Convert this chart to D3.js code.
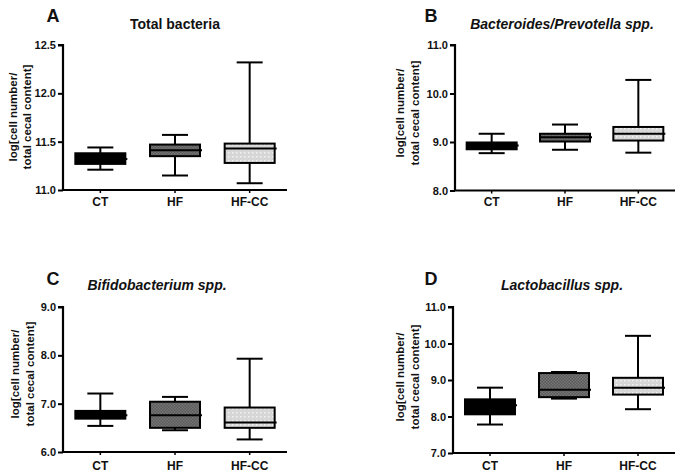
<!DOCTYPE html>
<html><head><meta charset="utf-8">
<script src="https://cdn.jsdelivr.net/npm/d3@7"></script>
<style>body{margin:0;background:#fff}svg{display:block}text{font-family:"Liberation Sans",Arial,sans-serif;font-weight:bold;fill:#111}</style>
</head><body><svg id="c" width="683" height="474"></svg>
<script>
const categories = ["CT", "HF", "HF-CC"];
const panelLetters = ["A", "B", "C", "D"];
const panelTitles = ["Total bacteria", "Bacteroides/Prevotella spp.", "Bifidobacterium spp.", "Lactobacillus spp."];
const titleItalic = [false, true, true, true];
const yDomains = [[11.0, 12.5], [8.0, 11.0], [6.0, 9.0], [7.0, 11.0]];
const yTicks = [[11.0, 11.5, 12.0, 12.5], [8.0, 9.0, 10.0, 11.0], [6.0, 7.0, 8.0, 9.0], [7.0, 8.0, 9.0, 10.0, 11.0]];
const yLabel = ["log[cell number/", "total cecal content]"];
// [min, q1, median, q3, max] per category
const totalBacteria = [[11.21, 11.27, 11.32, 11.38, 11.44], [11.15, 11.35, 11.41, 11.47, 11.57], [11.07, 11.28, 11.43, 11.48, 12.32]];
const bacteroides = [[8.77, 8.85, 8.93, 8.99, 9.17], [8.84, 9.01, 9.10, 9.17, 9.36], [8.78, 9.03, 9.17, 9.31, 10.28]];
const bifido = [[6.54, 6.69, 6.76, 6.85, 7.21], [6.45, 6.50, 6.76, 7.04, 7.14], [6.26, 6.50, 6.61, 6.92, 7.93]];
const lacto = [[7.78, 8.06, 8.31, 8.47, 8.79], [8.49, 8.53, 8.73, 9.19, 9.22], [8.20, 8.60, 8.79, 9.06, 10.21]];
const panelData = [totalBacteria, bacteroides, bifido, lacto];

const svg = d3.select("#c");
const defs = svg.append("defs");
const p1 = defs.append("pattern").attr("id","pHF").attr("width",3).attr("height",3).attr("patternUnits","userSpaceOnUse");
p1.append("rect").attr("width",3).attr("height",3).attr("fill","#5a5a5a");
p1.append("rect").attr("width",1.5).attr("height",1.5).attr("fill","#767676");
p1.append("rect").attr("x",1.5).attr("y",1.5).attr("width",1.5).attr("height",1.5).attr("fill","#767676");
const p2 = defs.append("pattern").attr("id","pHFCC").attr("width",4).attr("height",4).attr("patternUnits","userSpaceOnUse");
p2.append("rect").attr("width",4).attr("height",4).attr("fill","#d6d6d6");
p2.append("rect").attr("width",1.5).attr("height",1.5).attr("fill","#f2f2f2");
const fills = ["#000", "url(#pHF)", "url(#pHFCC)"];

const layouts = [
  {x0:63, x1:287, yTop:45, yBot:190, lx:53, ly:22, tx:175, ty:29, labX:[17,31], labY:117, catY:206},
  {x0:455, x1:675, yTop:45, yBot:190.5, lx:431, ly:22, tx:562, ty:29, labX:[404,419], labY:113, catY:206},
  {x0:63, x1:287, yTop:307, yBot:452, lx:53, ly:285, tx:157, ty:290, labX:[19,34], labY:374, catY:470},
  {x0:453, x1:675, yTop:307, yBot:453, lx:431, ly:285, tx:562, ty:290, labX:[404,419], labY:377, catY:470}
];

layouts.forEach((L, i) => {
  const g = svg.append("g");
  const x = d3.scaleBand().domain(categories).range([L.x0, L.x1]);
  const y = d3.scaleLinear().domain(yDomains[i]).range([L.yBot, L.yTop]);
  const ya = g.append("g").attr("transform", `translate(${L.x0},0)`)
    .call(d3.axisLeft(y).tickValues(yTicks[i]).tickFormat(d3.format(".1f")).tickSize(5).tickPadding(2));
  ya.select(".domain").attr("stroke","#000").attr("stroke-width",2.2).attr("d", `M-5,${L.yTop}H0V${L.yBot}`);
  ya.selectAll(".tick line").attr("stroke","#000").attr("stroke-width",2);
  ya.selectAll(".tick text").style("font-size","11px").style("font-weight","bold").attr("fill","#111");
  const xa = g.append("g").attr("transform", `translate(0,${L.yBot})`)
    .call(d3.axisBottom(x).tickSize(3).tickSizeOuter(0).tickFormat(() => ""));
  xa.select(".domain").attr("stroke","#000").attr("stroke-width",2.2).attr("d", `M${L.x0 - 1},0H${L.x1}`);
  xa.selectAll(".tick line").attr("stroke","#000").attr("stroke-width",1.5);
  g.selectAll(".cat").data(categories).join("text").attr("class","cat")
    .attr("x", d => x(d) + x.bandwidth()/2).attr("y", L.catY).attr("text-anchor","middle")
    .style("font-size","12px").text(d => d);
  const bw = 50, cw = 26;
  panelData[i].forEach((v, k) => {
    const cx = x(categories[k]) + x.bandwidth()/2;
    const [mn, q1, md, q3, mx] = v;
    g.append("line").attr("x1",cx).attr("x2",cx).attr("y1",y(mx)).attr("y2",y(mn)).attr("stroke","#000").attr("stroke-width",2);
    g.append("line").attr("x1",cx-cw/2).attr("x2",cx+cw/2).attr("y1",y(mx)).attr("y2",y(mx)).attr("stroke","#000").attr("stroke-width",2);
    g.append("line").attr("x1",cx-cw/2).attr("x2",cx+cw/2).attr("y1",y(mn)).attr("y2",y(mn)).attr("stroke","#000").attr("stroke-width",2);
    g.append("rect").attr("x",cx-bw/2).attr("width",bw).attr("y",y(q3)).attr("height",y(q1)-y(q3))
      .attr("fill",fills[k]).attr("stroke","#000").attr("stroke-width",2);
    g.append("line").attr("x1",cx-bw/2).attr("x2",cx+bw/2+2).attr("y1",y(md)).attr("y2",y(md))
      .attr("stroke","#000").attr("stroke-width",2);
  });
  g.append("text").attr("x",L.lx).attr("y",L.ly).attr("text-anchor","middle").style("font-size","18px").text(panelLetters[i]);
  g.append("text").attr("x",L.tx).attr("y",L.ty).attr("text-anchor","middle").style("font-size","14px")
    .style("font-style", titleItalic[i] ? "italic" : "normal").text(panelTitles[i]);
  yLabel.forEach((t, j) => {
    g.append("text").attr("transform", `translate(${L.labX[j]},${L.labY}) rotate(-90)`)
      .attr("text-anchor","middle").style("font-size","11.5px").text(t);
  });
});
</script></body></html>
